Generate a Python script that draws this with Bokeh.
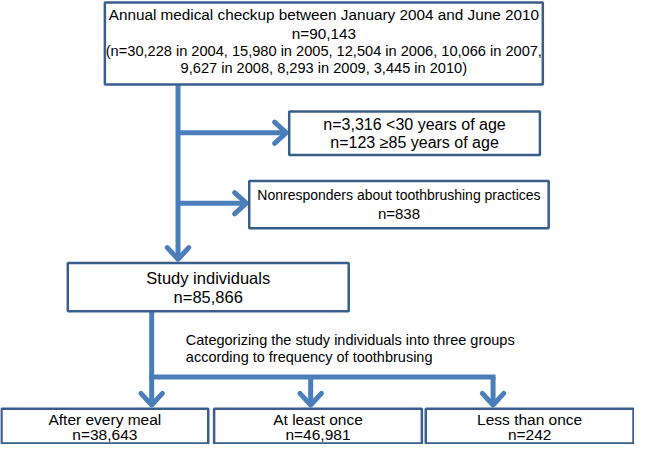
from bokeh.plotting import figure
from bokeh.models import Range1d
from bokeh.core.properties import value
from bokeh.embed import file_html
from bokeh.resources import INLINE

# ---- data (texts and counts) ----
top_title = "Annual medical checkup between January 2004 and June 2010"
total_n = "90,143"
years = ["2004", "2005", "2006", "2007", "2008", "2009", "2010"]
year_counts = ["30,228", "15,980", "12,504", "10,066", "9,627", "8,293", "3,445"]
age_excl = ["n=3,316 <30 years of age", "n=123 \u226585 years of age"]
nonresp_label = "Nonresponders about toothbrushing practices"
nonresp_n = "838"
study_label = "Study individuals"
study_n = "85,866"
note_lines = ["Categorizing the study individuals into three groups",
              "according to frequency of toothbrusing"]
groups = ["After every meal", "At least once", "Less than once"]
group_n = ["38,643", "46,981", "242"]

# ---- layout (reference pixel space) ----
FONT = value("Liberation Sans")
LINE = "#4A7EBB"
BORDER = "#3A5E8C"

p = figure(width=634, height=444, output_backend="svg", toolbar_location=None,
           x_range=Range1d(0, 650), y_range=Range1d(460, 0),
           x_axis_location=None, y_axis_location=None,
           min_border=0, min_border_left=0, min_border_right=0,
           min_border_top=0, min_border_bottom=0)
p.grid.visible = False
p.outline_line_color = None
p.background_fill_color = "white"
p.border_fill_color = "white"

# boxes: (left, right, top, bottom)
boxes = [
    (107, 556, 2, 87),     # top
    (296, 553, 115, 160),  # age exclusion
    (255, 562, 187, 236),  # nonresponders
    (69, 357, 272, 322),   # study individuals
    (1, 213, 423, 459),    # group 1
    (219, 432, 423, 459),  # group 2
    (436, 649, 423, 459),  # group 3
]

# connector lines and arrow shafts
seg = [
    (182, 87, 182, 268),
    (182, 137, 293, 137),
    (182, 210, 252, 210),
    (155, 322, 155, 390),
    (152.5, 390, 507.5, 390),
    (155, 390, 155, 419),
    (318, 390, 318, 419),
    (505, 390, 505, 419),
]
p.segment(x0=[s[0] for s in seg], y0=[s[1] for s in seg],
          x1=[s[2] for s in seg], y1=[s[3] for s in seg],
          line_color=LINE, line_width=5)

# open arrow heads: (tip x, tip y, direction)
heads = [
    (293, 137, "r"),
    (252, 210, "r"),
    (182, 268, "d"),
    (155, 419, "d"),
    (318, 419, "d"),
    (505, 419, "d"),
]
L, W = 12, 11
hx, hy = [], []
for tx, ty, d in heads:
    if d == "r":
        hx.append([tx - L, tx, tx - L]); hy.append([ty - W, ty, ty + W])
    else:
        hx.append([tx - W, tx, tx + W]); hy.append([ty - L, ty, ty - L])
p.multi_line(xs=hx, ys=hy, line_color=LINE, line_width=5,
             line_cap="round", line_join="round")

p.quad(left=[b[0] for b in boxes], right=[b[1] for b in boxes],
       top=[b[2] for b in boxes], bottom=[b[3] for b in boxes],
       fill_color="white", line_color=BORDER, line_width=2.5)


def txt(x, y, s, size, align="center"):
    p.text(x=[x], y=[y], text=[s], text_font=FONT, text_font_size=size,
           text_align=align, text_baseline="middle", text_color="black")


paren1 = "(" + ", ".join(f"n={c} in {y}" if i == 0 else f"{c} in {y}"
                         for i, (c, y) in enumerate(zip(year_counts[:4], years[:4]))) + ","
paren2 = ", ".join(f"{c} in {y}" for c, y in zip(year_counts[4:], years[4:])) + ")"

cx = (boxes[0][0] + boxes[0][1]) / 2
txt(cx, 15, top_title, "15.3px")
txt(cx, 34, "n=" + total_n, "15.3px")
txt(cx, 52, paren1, "14.6px")
txt(cx, 70, paren2, "14.6px")

cx = (boxes[1][0] + boxes[1][1]) / 2
txt(cx, 128, age_excl[0], "16px")
txt(cx, 147, age_excl[1], "16px")

cx = (boxes[2][0] + boxes[2][1]) / 2
txt(cx, 201, nonresp_label, "14px")
txt(cx, 221, "n=" + nonresp_n, "15px")

cx = (boxes[3][0] + boxes[3][1]) / 2
txt(cx, 287, study_label, "16.5px")
txt(cx, 307, "n=" + study_n, "16.5px")

txt(190, 352, note_lines[0], "14.5px", "left")
txt(190, 369, note_lines[1], "14.5px", "left")

for i, (g, n) in enumerate(zip(groups, group_n)):
    b = boxes[4 + i]
    cx = (b[0] + b[1]) / 2
    txt(cx, 434.5, g, "15.5px")
    txt(cx, 450, "n=" + n, "15.5px")

open("out.html", "w").write(file_html(p, INLINE))
